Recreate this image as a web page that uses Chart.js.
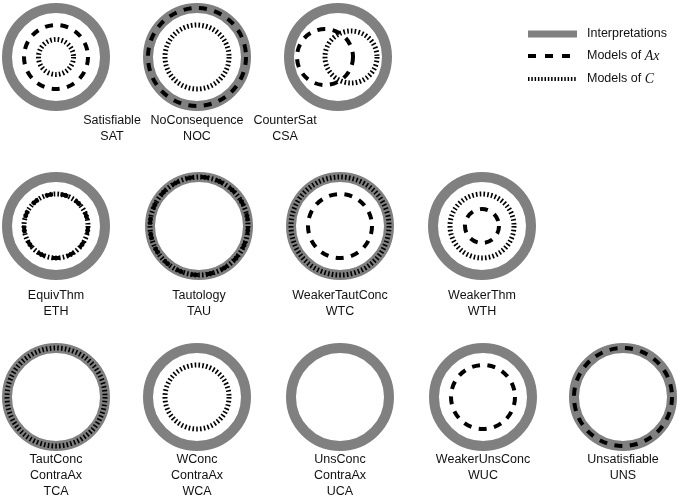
<!DOCTYPE html>
<html><head><meta charset="utf-8">
<script src="https://cdn.jsdelivr.net/npm/chart.js@4"></script>
<style>html,body{margin:0;padding:0;background:#fff}#w{width:678px;height:498px}</style>
</head><body><div id="w"><canvas id="c"></canvas></div>
<script>
// diagram data (data units = pixels of the 678x498 frame)
const names   = [["Satisfiable","SAT"],["NoConsequence","NOC"],["CounterSat","CSA"],
                 ["EquivThm","ETH"],["Tautology","TAU"],["WeakerTautConc","WTC"],["WeakerThm","WTH"],
                 ["TautConc","ContraAx","TCA"],["WConc","ContraAx","WCA"],["UnsConc","ContraAx","UCA"],["WeakerUnsConc","WUC"],["Unsatisfiable","UNS"]];
const cxs     = [56,197,338, 56,199,340,482, 56,197,340,483,623];
const cys     = [57,57,57, 226,226,226,226, 397,397,397,397,397];
const labelX  = [112,197,285, 56,199,340,482, 56,197,340,483,623];
const labelY  = [121,121,121, 296,296,296,296, 460,460,460,460,460];
const ringR   = [49,49,49, 49,49,49,49, 49,49,49,49,49];
const axR     = [32,49,28, 32,49,32,17, null,null,null,32,49];
const axDx    = [0,0,-13, 0,0,0,0, 0,0,0,0,0];
const cR      = [17.5,32,26, 32,49,49,32, 49,32,null,null,null];
const cDx     = [0,0,13, 0,0,0,0, 0,0,0,0,0];
const legendItems = [["Interpretations",""],["Models of ","Ax"],["Models of ","C"]];
const legendY = [34,56,79];

const GRAY='#808080';
function style(ctx,kind){
  if(kind==='ring'){ctx.strokeStyle=GRAY;ctx.lineWidth=10;ctx.setLineDash([]);}
  else if(kind==='ax'){ctx.strokeStyle='#000';ctx.lineWidth=4;ctx.setLineDash([8,7.5]);}
  else {ctx.strokeStyle='#000';ctx.lineWidth=5;ctx.setLineDash([1.6,2.2]);}
}
const drawPlugin={id:'diag',afterDatasetsDraw(chart){
  const ctx=chart.ctx,xs=chart.scales.x,ys=chart.scales.y;
  const px=v=>xs.getPixelForValue(v),py=v=>ys.getPixelForValue(v);
  const rr=(cx,r)=>Math.abs(px(cx+r)-px(cx));
  const circ=(x,y,r,kind)=>{ctx.save();style(ctx,kind);ctx.beginPath();ctx.arc(px(x),py(y),rr(x,r),0,Math.PI*2);ctx.stroke();ctx.restore();};
  for(let i=0;i<cxs.length;i++){
    circ(cxs[i],cys[i],ringR[i],'ring');
    if(cR[i]!=null) circ(cxs[i]+cDx[i],cys[i],cR[i],'c');
    if(axR[i]!=null) circ(cxs[i]+axDx[i],cys[i],axR[i],'ax');
    ctx.save();ctx.fillStyle='#111';ctx.font='12.5px "Liberation Sans", Arial, sans-serif';ctx.textAlign='center';ctx.textBaseline='middle';
    names[i].forEach((t,k)=>ctx.fillText(t,px(labelX[i]),py(labelY[i]+k*16)));
    ctx.restore();
  }
  // legend
  legendItems.forEach((it,k)=>{
    const y=py(legendY[k]);
    ctx.save();
    const kind=['ring','ax','c'][k];style(ctx,kind);
    if(kind==='ring'){ctx.lineWidth=7;}
    if(kind==='ax'){ctx.setLineDash([8,9]);}
    if(kind==='c'){ctx.lineWidth=4;ctx.setLineDash([1.5,1.8]);}
    ctx.beginPath();ctx.moveTo(px(528),y);ctx.lineTo(px(577),y);ctx.stroke();
    ctx.fillStyle='#111';ctx.textBaseline='middle';ctx.font='12.5px "Liberation Sans", Arial, sans-serif';
    ctx.fillText(it[0],px(587),y);
    if(it[1]){const w=ctx.measureText(it[0]).width;ctx.font='italic 14px "Liberation Serif", serif';ctx.fillText(it[1],px(587)+w,y);}
    ctx.restore();
  });
}};
new Chart(document.getElementById('c'),{
  type:'scatter',
  data:{datasets:[{data:cxs.map((x,i)=>({x,y:cys[i]})),pointRadius:0,pointHoverRadius:0}]},
  options:{responsive:true,maintainAspectRatio:false,animation:false,
    layout:{padding:0},
    plugins:{legend:{display:false},tooltip:{enabled:false}},
    scales:{x:{type:'linear',min:0,max:678,display:false},
            y:{type:'linear',min:0,max:498,reverse:true,display:false}}},
  plugins:[drawPlugin]
});
</script></body></html>
